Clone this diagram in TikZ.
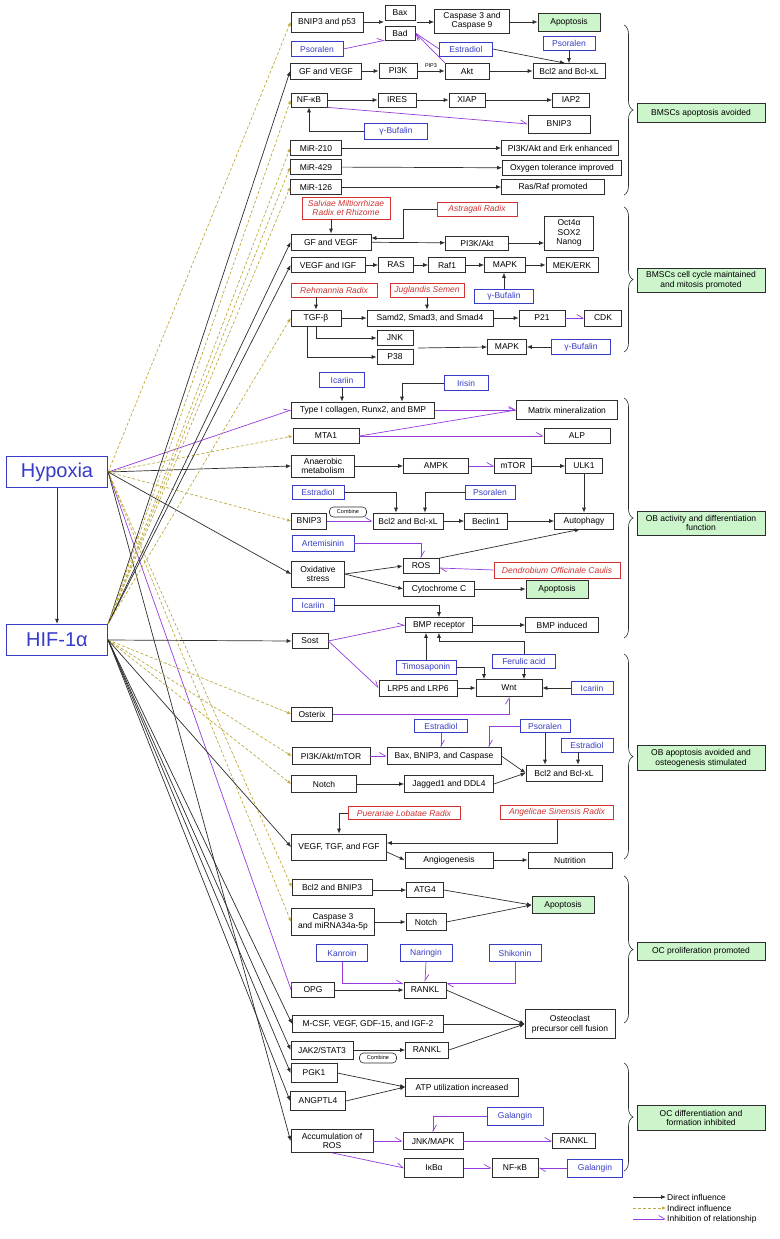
\documentclass[tikz,border=0pt]{standalone}
\usepackage{fontspec}
\setmainfont{Liberation Sans}
\usetikzlibrary{arrows.meta,decorations.pathreplacing}

\definecolor{linegray}{RGB}{45,45,45}
\definecolor{drugblue}{RGB}{55,60,200}
\definecolor{herbred}{RGB}{210,50,50}
\definecolor{effgreen}{RGB}{204,245,204}
\definecolor{inhpurple}{RGB}{150,60,220}
\definecolor{dashcol}{RGB}{190,170,60}

\tikzset{
  box/.style={draw=linegray, line width=0.7pt, fill=white, text=black,
    font=\fontsize{8.5}{9.6}\selectfont, inner sep=1pt, minimum height=15, align=center},
  drug/.style={box, draw=drugblue, text=drugblue},
  herb/.style={box, draw=herbred, text=herbred, font=\fontsize{8.5}{9.6}\selectfont\itshape},
  effect/.style={box, fill=effgreen},
  hub/.style={draw=drugblue, text=drugblue, line width=1.3pt, fill=white,
    font=\fontsize{20}{22}\selectfont, minimum width=101, minimum height=31, inner sep=2pt},
  combine/.style={draw=linegray, rounded corners=4pt, fill=white, line width=0.6pt,
    font=\fontsize{5.5}{6}\selectfont, minimum width=37, minimum height=10, inner sep=1pt},
  direct/.style={draw=linegray, line width=0.7pt, -{Latex[length=5pt,width=4pt]}},
  indirect/.style={draw=dashcol, line width=0.7pt, dash pattern=on 3pt off 2pt,
    -{Latex[length=4pt,width=3.5pt]}},
  inhibit/.style={draw=inhpurple, line width=0.7pt, -{Straight Barb[left,length=6pt,width=7pt]}},
  curly/.style={draw=linegray, line width=0.6pt, decorate, decoration={brace,amplitude=9pt}},
}

\begin{document}
\begin{tikzpicture}[x=1pt,y=-1pt]
	\useasboundingbox (0,0) rectangle (779,1239);

	\node[hub] (hyp) at (57,472) {Hypoxia};
	\node[hub] (hif) at (57,640) {HIF-1α};

	\node[box, minimum width=72, minimum height=20] (bnipA) at (327,22) {BNIP3 and p53};
	\node[box, minimum width=30] (bax) at (400,13) {Bax};
	\node[box, minimum width=30, minimum height=14] (bad) at (400,33) {Bad};
	\node[box, minimum width=75, minimum height=24] (casp) at (472,21) {Caspase 3 and\\Caspase 9};
	\node[effect, minimum width=62, minimum height=18] (apoA) at (569,22) {Apoptosis};
	\node[drug, minimum width=52] (psoA) at (317,49) {Psoralen};
	\node[drug, minimum width=53, minimum height=14] (estA) at (466,49) {Estradiol};
	\node[drug, minimum width=52, minimum height=14] (psoB) at (569,43) {Psoralen};
	\node[box, minimum width=71, minimum height=16] (gfA) at (326,71) {GF and VEGF};
	\node[box, minimum width=38] (pik) at (398,71) {PI3K};
	\node[box, minimum width=44, minimum height=16] (akt) at (467,71) {Akt};
	\node[box, minimum width=72] (bclA) at (569,71) {Bcl2 and Bcl-xL};
	\node[box, minimum width=36, minimum height=14] (nfA) at (309,100) {NF-κB};
	\node[box, minimum width=38, minimum height=14] (ires) at (397,100) {IRES};
	\node[box, minimum width=36, minimum height=14] (xiap) at (467,100) {XIAP};
	\node[box, minimum width=37, minimum height=14] (iap) at (571,100) {IAP2};
	\node[box, minimum width=62, minimum height=18] (bnipB) at (559,124) {BNIP3};
	\node[drug, minimum width=63, minimum height=16] (bufA) at (396,131) {γ-Bufalin};
	\node[box, minimum width=51] (mirA) at (316,148) {MiR-210};
	\node[box, minimum width=117] (resA) at (560,148) {PI3K/Akt and Erk enhanced};
	\node[box, minimum width=51] (mirB) at (316,167) {MiR-429};
	\node[box, minimum width=119] (resB) at (562,168) {Oxygen tolerance improved};
	\node[box, minimum width=51] (mirC) at (316,187) {MiR-126};
	\node[box, minimum width=103] (resC) at (553,187) {Ras/Raf promoted};

	\node[herb, minimum width=88, minimum height=22] (salv) at (346,208) {Salviae Miltiorrhizae\\Radix et Rhizome};
	\node[herb, minimum width=80, minimum height=14] (astr) at (477,209) {Astragali Radix};
	\node[box, minimum width=80, minimum height=16] (gfB) at (331,242) {GF and VEGF};
	\node[box, minimum width=63, minimum height=14] (pikB) at (477,243) {PI3K/Akt};
	\node[box, minimum width=49, minimum height=34] (oct) at (569,233) {Oct4α\\SOX2\\Nanog};
	\node[box, minimum width=74] (vegA) at (328,265) {VEGF and IGF};
	\node[box, minimum width=35] (ras) at (396,265) {RAS};
	\node[box, minimum width=37] (raf) at (447,265) {Raf1};
	\node[box, minimum width=41] (mapA) at (505,265) {MAPK};
	\node[box, minimum width=52] (mek) at (572,265) {MEK/ERK};
	\node[herb, minimum width=86, minimum height=14] (rehm) at (334,290) {Rehmannia Radix};
	\node[herb, minimum width=74, minimum height=14] (jugl) at (427,290) {Juglandis Semen};
	\node[drug, minimum width=59, minimum height=14] (bufB) at (504,296) {γ-Bufalin};
	\node[box, minimum width=50, minimum height=16] (tgf) at (316,318) {TGF-β};
	\node[box, minimum width=126, minimum height=16] (smad) at (430,318) {Samd2, Smad3, and Smad4};
	\node[box, minimum width=46, minimum height=16] (p21) at (542,318) {P21};
	\node[box, minimum width=37, minimum height=16] (cdk) at (603,318) {CDK};
	\node[box, minimum width=36] (jnk) at (395,338) {JNK};
	\node[box, minimum width=36] (p38) at (395,357) {P38};
	\node[box, minimum width=39] (mapB) at (507,347) {MAPK};
	\node[drug, minimum width=59] (bufC) at (581,347) {γ-Bufalin};

	\node[drug, minimum width=45] (ica1) at (342,380) {Icariin};
	\node[drug, minimum width=44] (iris) at (466,383) {Irisin};
	\node[box, minimum width=143, minimum height=16] (col) at (363,410) {Type I collagen, Runx2, and BMP};
	\node[box, minimum width=101, minimum height=19] (mat) at (567,410) {Matrix mineralization};
	\node[box, minimum width=66] (mta) at (326,436) {MTA1};
	\node[box, minimum width=66] (alp) at (577,436) {ALP};
	\node[box, minimum width=63, minimum height=22] (ana) at (323,466) {Anaerobic\\metabolism};
	\node[box, minimum width=65] (ampk) at (436,466) {AMPK};
	\node[box, minimum width=37] (mtor) at (513,466) {mTOR};
	\node[box, minimum width=37] (ulk) at (584,466) {ULK1};
	\node[drug, minimum width=52, minimum height=14] (est2) at (318,492) {Estradiol};
	\node[drug, minimum width=50, minimum height=14] (pso2) at (490,492) {Psoralen};
	\node[box, minimum width=35, minimum height=16] (bnip) at (309,521) {BNIP3};
	\node[box, minimum width=70, minimum height=16] (bclB) at (408,521) {Bcl2 and Bcl-xL};
	\node[box, minimum width=43, minimum height=16] (becl) at (486,521) {Beclin1};
	\node[box, minimum width=59, minimum height=16] (auto) at (584,521) {Autophagy};

	\node[drug, minimum width=62, minimum height=16] (arte) at (323,543) {Artemisinin};
	\node[box, minimum width=36] (ros) at (421,566) {ROS};
	\node[box, minimum width=53, minimum height=26] (oxi) at (318,574) {Oxidative\\stress};
	\node[herb, minimum width=126, minimum height=16] (dend) at (557,570) {Dendrobium Officinale Caulis};
	\node[box, minimum width=71] (cyto) at (439,589) {Cytochrome C};
	\node[effect, minimum width=62, minimum height=18] (apoB) at (557,589) {Apoptosis};
	\node[drug, minimum width=42, minimum height=13] (ica2) at (313,605) {Icariin};
	\node[box, minimum width=67] (bmpr) at (439,625) {BMP receptor};
	\node[box, minimum width=73] (bmpi) at (562,625) {BMP induced};
	\node[box, minimum width=36] (sost) at (310,641) {Sost};
	\node[drug, minimum width=60, minimum height=14] (timo) at (426,667) {Timosaponin};
	\node[drug, minimum width=63, minimum height=14] (feru) at (524,661) {Ferulic acid};
	\node[box, minimum width=78, minimum height=16] (lrp) at (418,688) {LRP5 and LRP6};
	\node[box, minimum width=66, minimum height=17] (wnt) at (509,688) {Wnt};
	\node[drug, minimum width=42, minimum height=13] (ica3) at (592,688) {Icariin};

	\node[box, minimum width=41, minimum height=14] (oste) at (312,714) {Osterix};
	\node[drug, minimum width=53, minimum height=13] (est3) at (441,726) {Estradiol};
	\node[drug, minimum width=50, minimum height=13] (pso3) at (545,726) {Psoralen};
	\node[drug, minimum width=52, minimum height=14] (est4) at (587,745) {Estradiol};
	\node[box, minimum width=78, minimum height=17] (pim) at (331,756) {PI3K/Akt/mTOR};
	\node[box, minimum width=114, minimum height=17] (baxc) at (444,756) {Bax, BNIP3, and Caspase};
	\node[box, minimum width=76, minimum height=16] (bclC) at (564,773) {Bcl2 and Bcl-xL};
	\node[box, minimum width=65, minimum height=17] (notA) at (324,784) {Notch};
	\node[box, minimum width=89, minimum height=17] (jag) at (449,784) {Jagged1 and DDL4};
	\node[herb, minimum width=112, minimum height=13] (puer) at (404,813) {Puerariae Lobatae Radix};
	\node[herb, minimum width=113, minimum height=14] (ange) at (557,812) {Angelicae Sinensis Radix};
	\node[box, minimum width=95, minimum height=26] (vtf) at (339,847) {VEGF, TGF, and FGF};
	\node[box, minimum width=88, minimum height=16] (angi) at (449,860) {Angiogenesis};
	\node[box, minimum width=84, minimum height=16] (nutr) at (570,860) {Nutrition};

	\node[box, minimum width=80, minimum height=16] (bcb) at (332,887) {Bcl2 and BNIP3};
	\node[box, minimum width=37] (atg) at (425,890) {ATG4};
	\node[effect, minimum width=62, minimum height=17] (apoC) at (563,905) {Apoptosis};
	\node[box, minimum width=83, minimum height=27] (cmi) at (333,922) {Caspase 3\\and miRNA34a-5p};
	\node[box, minimum width=40, minimum height=17] (notB) at (426,922) {Notch};
	\node[drug, minimum width=51, minimum height=17] (kanr) at (342,953) {Kanroin};
	\node[drug, minimum width=52, minimum height=17] (nari) at (426,953) {Naringin};
	\node[drug, minimum width=52, minimum height=17] (shik) at (515,953) {Shikonin};
	\node[box, minimum width=43] (opg) at (313,990) {OPG};
	\node[box, minimum width=42, minimum height=16] (rkA) at (425,990) {RANKL};
	\node[box, minimum width=151, minimum height=17] (mcsf) at (368,1024) {M-CSF, VEGF, GDF-15, and IGF-2};
	\node[box, minimum width=90, minimum height=29] (ostc) at (570,1024) {Osteoclast\\precursor cell fusion};

	\node[box, minimum width=62, minimum height=18] (jak) at (322,1050) {JAK2/STAT3};
	\node[box, minimum width=43, minimum height=16] (rkB) at (427,1050) {RANKL};
	\node[box, minimum width=46, minimum height=19] (pgk) at (314,1073) {PGK1};
	\node[box, minimum width=113, minimum height=18] (atp) at (462,1087) {ATP utilization increased};
	\node[box, minimum width=55, minimum height=19] (angp) at (318,1101) {ANGPTL4};
	\node[drug, minimum width=56, minimum height=18] (gal1) at (515,1116) {Galangin};
	\node[box, minimum width=82, minimum height=23] (accu) at (332,1141) {Accumulation of\\ROS};
	\node[box, minimum width=60, minimum height=17] (jnkm) at (433,1141) {JNK/MAPK};
	\node[box, minimum width=43] (rkC) at (574,1141) {RANKL};
	\node[box, minimum width=59, minimum height=19] (ikb) at (434,1168) {IκBα};
	\node[box, minimum width=46, minimum height=19] (nfB) at (515,1168) {NF-κB};
	\node[drug, minimum width=55, minimum height=18] (gal2) at (595,1168) {Galangin};

	\node[effect, minimum width=128, minimum height=19] (grpA) at (701,113) {BMSCs apoptosis avoided};
	\node[effect, minimum width=128, minimum height=24] (grpB) at (701,280) {BMSCs cell cycle maintained\\and mitosis promoted};
	\node[effect, minimum width=128, minimum height=24] (grpC) at (701,523) {OB activity and differentiation\\function};
	\node[effect, minimum width=128, minimum height=25] (grpD) at (701,758) {OB apoptosis avoided and\\osteogenesis stimulated};
	\node[effect, minimum width=128, minimum height=18] (grpE) at (701,951) {OC proliferation promoted};
	\node[effect, minimum width=128, minimum height=25] (grpF) at (701,1118) {OC differentiation and\\formation inhibited};

	\coordinate (brA1) at (624,25);   \coordinate (brA2) at (624,195);
	\coordinate (brB1) at (624,207);  \coordinate (brB2) at (624,352);
	\coordinate (brC1) at (624,398);  \coordinate (brC2) at (624,638);
	\coordinate (brD1) at (624,654);  \coordinate (brD2) at (624,859);
	\coordinate (brE1) at (624,876);  \coordinate (brE2) at (624,1023);
	\coordinate (brF1) at (624,1063); \coordinate (brF2) at (624,1171);
	\draw[curly] (brA1) -- (brA2);
	\draw[curly] (brB1) -- (brB2);
	\draw[curly] (brC1) -- (brC2);
	\draw[curly] (brD1) -- (brD2);
	\draw[curly] (brE1) -- (brE2);
	\draw[curly] (brF1) -- (brF2);

	\draw[direct] (hyp.south) -- (hif.north);

	\draw[indirect] (hyp.east) -- (bnipA.west);
	\draw[inhibit] (hyp.east) -- (col.west);
	\draw[indirect] (hyp.east) -- (mta.west);
	\draw[direct] (hyp.east) -- (ana.west);
	\draw[indirect] (hyp.east) -- (bnip.west);
	\draw[direct] (hyp.east) -- (oxi.west);
	\draw[inhibit] (hyp.east) -- (opg.west);
	\draw[indirect] (hyp.east) -- (bcb.west);
	\draw[indirect] (hyp.east) -- (cmi.west);
	\draw[direct] (hyp.east) -- (accu.west);

	\draw[direct] (hif.north east) -- (gfA.west);
	\draw[indirect] (hif.north east) -- (nfA.west);
	\draw[indirect] (hif.north east) -- (mirA.west);
	\draw[indirect] (hif.north east) -- (mirB.west);
	\draw[indirect] (hif.north east) -- (mirC.west);
	\draw[direct] (hif.north east) -- (gfB.west);
	\draw[direct] (hif.north east) -- (vegA.west);
	\draw[indirect] (hif.north east) -- (tgf.west);
	\draw[direct] (hif.east) -- (sost.west);
	\draw[indirect] (hif.east) -- (oste.west);
	\draw[indirect] (hif.east) -- (pim.west);
	\draw[indirect] (hif.east) -- (notA.west);
	\draw[direct] (hif.east) -- (vtf.west);
	\draw[direct] (hif.east) -- (mcsf.west);
	\draw[direct] (hif.east) -- (jak.west);
	\draw[direct] (hif.east) -- (pgk.west);
	\draw[direct] (hif.east) -- (angp.west);

	\coordinate (baxin) at (384,22);
	\coordinate (baxout) at (417,22);
	\draw[direct] (bnipA.east) -- (baxin);
	\draw[direct] (baxout) -- (casp.west |- baxout);
	\draw[direct] (casp.east |- apoA) -- (apoA.west);
	\draw[inhibit] (psoA.east) -- (bad.south west);
	\draw[inhibit] (estA.west) -- (bad.east);
	\draw[inhibit] (akt.north west) -- (bad.east);
	\draw[direct] (estA.east) -- ([xshift=-4]bclA.north);
	\draw[direct] (psoB.south) -- (bclA.north);
	\draw[direct] (gfA) -- (pik);
	\draw[direct] (pik) -- node[above=-0.5pt, font=\fontsize{5.5}{6}\selectfont] {PIP3} (akt);
	\draw[direct] (akt) -- (bclA);
	\draw[direct] (nfA) -- (ires);
	\draw[direct] (ires) -- (xiap);
	\draw[direct] (xiap) -- (iap);
	\draw[inhibit] (nfA.south east) -- (bnipB.west);
	\draw[direct] (bufA.west) -| (nfA.south);
	\draw[direct] (mirA) -- (resA);
	\draw[direct] (mirB) -- (resB);
	\draw[direct] (mirC) -- (resC);

	\draw[direct] (gfB.north |- salv.south) -- (gfB.north);
	\draw[direct] (astr.west) -| ([xshift=72,yshift=4]gfB.center) -- ([yshift=4]gfB.east);
	\draw[direct] (gfB) -- (pikB);
	\draw[direct] (pikB) -- (pikB -| oct.west);
	\draw[direct] (vegA) -- (ras);
	\draw[direct] (ras) -- (raf);
	\draw[direct] (raf) -- (mapA);
	\draw[direct] (mapA) -- (mek);
	\draw[direct] (bufB.north) -- (bufB.north |- mapA.south);
	\draw[direct] (rehm.south -| tgf.north) -- (tgf.north);
	\draw[direct] (jugl.south) -- (jugl.south |- smad.north);
	\draw[direct] (tgf) -- (smad);
	\draw[direct] (smad) -- (p21);
	\draw[inhibit] (p21) -- (cdk);
	\draw[direct] (tgf.south) |- (jnk.west);
	\draw[direct] ([xshift=-9]tgf.south) |- (p38.west);
	\coordinate (jp) at (418,348);
	\draw[direct] (jp) -- (mapB.west);
	\draw[direct] (bufC) -- (mapB);

	\draw[direct] (ica1.south) -- (ica1.south |- col.north);
	\draw[direct] (iris.west) -| ([xshift=39]col.north);
	\draw[inhibit] (col.east) -- (mat.west);
	\draw[inhibit] (mta.east) -- (mat.west);
	\draw[inhibit] (mta) -- (alp);
	\draw[direct] (ana.east |- ampk) -- (ampk);
	\draw[inhibit] (ampk) -- (mtor);
	\draw[direct] (mtor) -- (ulk);
	\draw[direct] (ulk) -- (auto);
	\draw[direct] (est2.east) -| ([xshift=-12]bclB.north);
	\draw[direct] (pso2.west) -| ([xshift=17]bclB.north);
	\draw[inhibit] (bnip) -- (bclB);
	\draw[direct] (bclB) -- (becl);
	\draw[direct] (becl) -- (auto);

	\draw[inhibit] (arte.east) -| (ros.north);
	\draw[direct] (oxi.east) -- (ros.west);
	\draw[direct] (oxi.east) -- (cyto.west);
	\draw[direct] (ros.north east) -- ([xshift=-4]auto.south);
	\draw[inhibit] (dend.west) -- ([yshift=-2]ros.east);
	\draw[direct] (cyto) -- (apoB);
	\draw[direct] (ica2.east) -| (bmpr.north);
	\draw[inhibit] (sost.east) -- (bmpr.west);
	\draw[inhibit] (sost.east) -- (lrp.west);
	\draw[direct] (bmpr) -- (bmpi);
	\draw[direct] (timo.north) -- (timo.north |- bmpr.south);
	\draw[direct] (timo.east) -| ([xshift=-25]wnt.north);
	\draw[direct] (feru.north) -- ++(0,-12) -| (bmpr.south);
	\draw[direct] (feru.south) -- (feru.south |- wnt.north);
	\draw[direct] (lrp) -- (wnt);
	\draw[direct] (ica3) -- (wnt);

	\draw[inhibit] (oste.east) -| (wnt.south);
	\draw[inhibit] (est3.south) -- (est3.south |- baxc.north);
	\draw[inhibit] (pso3.west) -| ([xshift=45]baxc.north);
	\draw[direct] (pso3.south) -- (pso3.south |- bclC.north);
	\draw[direct] ([xshift=-9]est4.south) -- ([xshift=-9]est4.south |- bclC.north);
	\draw[inhibit] (pim) -- (baxc);
	\draw[direct] (baxc.east) -- (bclC.west);
	\draw[direct] (jag.east) -- (bclC.west);
	\draw[direct] (notA) -- (jag);
	\draw[direct] (puer.west) -| (vtf.north);
	\draw[direct] (ange.south) |- ([yshift=4]vtf.east);
	\draw[direct] ([yshift=-5]vtf.east) -- (angi.west);
	\draw[direct] (angi) -- (nutr);

	\draw[direct] (bcb.east |- atg) -- (atg);
	\draw[direct] (atg.east) -- (apoC.west);
	\draw[direct] (cmi) -- (notB);
	\draw[direct] (notB.east) -- (apoC.west);
	\draw[inhibit] (kanr.south) |- ([yshift=-2]rkA.north west);
	\draw[inhibit] (nari.south) -- (rkA.north);
	\draw[inhibit] (shik.south) |- ([yshift=-2]rkA.north east);
	\draw[direct] (opg) -- (rkA);
	\draw[direct] (rkA.east) -- (ostc.west);
	\draw[direct] (mcsf) -- (ostc);

	\draw[direct] (jak) -- (rkB);
	\draw[direct] (rkB.east) -- (ostc.west);
	\draw[direct] (pgk.east) -- (atp.west);
	\draw[direct] (angp.east) -- (atp.west);
	\draw[inhibit] (gal1.west) -| (jnkm.north);
	\draw[inhibit] (accu.east |- jnkm) -- (jnkm);
	\draw[inhibit] (accu.south) -- (ikb.west);
	\draw[inhibit] (jnkm) -- (rkC);
	\draw[inhibit] (ikb) -- (nfB);
	\draw[inhibit] (gal2) -- (nfB);

	\node[combine] (combA) at (348,512) {Combine};
	\node[combine] (combB) at (378,1058) {Combine};

	\coordinate (legA) at (633,1197);
	\coordinate (legB) at (633,1208);
	\coordinate (legC) at (633,1219);
	\node[anchor=west, inner sep=1pt, font=\fontsize{8.5}{9.6}\selectfont] (legAtext) at (666,1197) {Direct influence};
	\node[anchor=west, inner sep=1pt, font=\fontsize{8.5}{9.6}\selectfont] (legBtext) at (666,1208) {Indirect influence};
	\node[anchor=west, inner sep=1pt, font=\fontsize{8.5}{9.6}\selectfont] (legCtext) at (666,1219) {Inhibition of relationship};
	\draw[direct] (legA) -- (legAtext.west);
	\draw[indirect] (legB) -- (legBtext.west);
	\draw[inhibit] (legC) -- (legCtext.west);
\end{tikzpicture}
\end{document}
